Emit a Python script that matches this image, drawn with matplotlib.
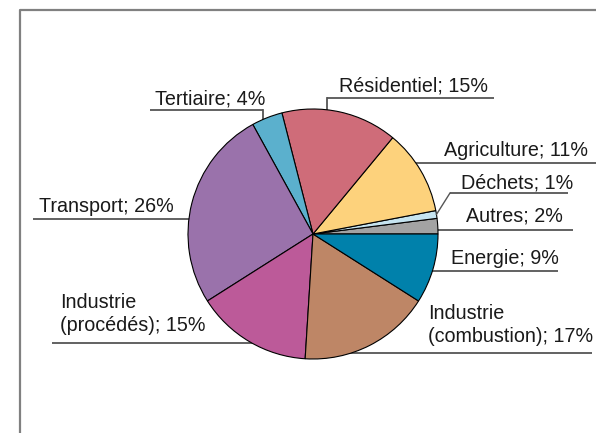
import numpy as np
import matplotlib.pyplot as plt

# Sectors, counter-clockwise from 3 o'clock
labels = ["Autres; 2%", "Déchets; 1%", "Agriculture; 11%", "Résidentiel; 15%",
          "Tertiaire; 4%", "Transport; 26%", "Industrie\n(procédés); 15%",
          "Industrie\n(combustion); 17%", "Energie; 9%"]
values = [2, 1, 11, 15, 4, 26, 15, 17, 9]
colors = ["#a3a3a3", "#c6e4f0", "#fdd27c", "#cf6c79", "#5bb0cd",
          "#9a72ab", "#bc5a99", "#be8666", "#0081ab"]

W, H = 596, 433
cx, cy, R = 313, H - 234, 125

fig = plt.figure(figsize=(W / 100, H / 100), dpi=100)
ax = fig.add_axes([0, 0, 1, 1])

wedges, _ = ax.pie(values, colors=colors, startangle=0, counterclock=True,
                   center=(cx, cy), radius=R, frame=True,
                   wedgeprops=dict(edgecolor="black", linewidth=0.8, zorder=3))
ax.set_xlim(0, W)
ax.set_ylim(0, H)
ax.set_aspect("equal")
ax.axis("off")

# frame (left + top)
ax.plot([20, 20, W], [0, H - 10, H - 10], color="#808080", lw=1.6, zorder=1,
        solid_capstyle="butt")

# label layout: text x, text center y (px from top), underline x0, x1, y
layout = {
    "Tertiaire; 4%": (155, 99, 150, 263, 110),
    "Résidentiel; 15%": (339, 86, 327, 494, 98),
    "Agriculture; 11%": (444, 151, 380, 596, 163),
    "Déchets; 1%": (461, 183, 450, 568, 193),
    "Autres; 2%": (466, 216, 400, 573, 230),
    "Energie; 9%": (451, 258, 400, 558, 271),
    "Industrie\n(combustion); 17%": (428, 325, 300, 592, 353),
    "Industrie\n(procédés); 15%": (60, 314, 52, 300, 343),
    "Transport; 26%": (39, 207, 33, 250, 219),
}

lc = "#555555"
for w, lab in zip(wedges, labels):
    tx, ty, x0, x1, uy = layout[lab]
    ax.text(tx, H - ty, lab, ha="left", va="center", fontsize=14.2,
            family="Liberation Sans", color="#1a1a1a", linespacing=1.22)
    ax.plot([x0, x1], [H - uy, H - uy], color=lc, lw=1.3, zorder=2,
            solid_capstyle="butt")
    mid = np.deg2rad((w.theta1 + w.theta2) / 2)
    if lab.startswith("Tertiaire"):
        ax.plot([x1, x1], [H - uy, cy], color=lc, lw=1.3, zorder=2)
    elif lab.startswith("Résidentiel"):
        ax.plot([x0, x0], [H - uy, cy], color=lc, lw=1.3, zorder=2)
    elif lab.startswith("Déchets"):
        ex, ey = cx + R * np.cos(mid), cy + R * np.sin(mid)
        ax.plot([x0, ex], [H - uy, ey], color=lc, lw=1.0, zorder=4)

fig.savefig("out.png", dpi=100, facecolor="white")
